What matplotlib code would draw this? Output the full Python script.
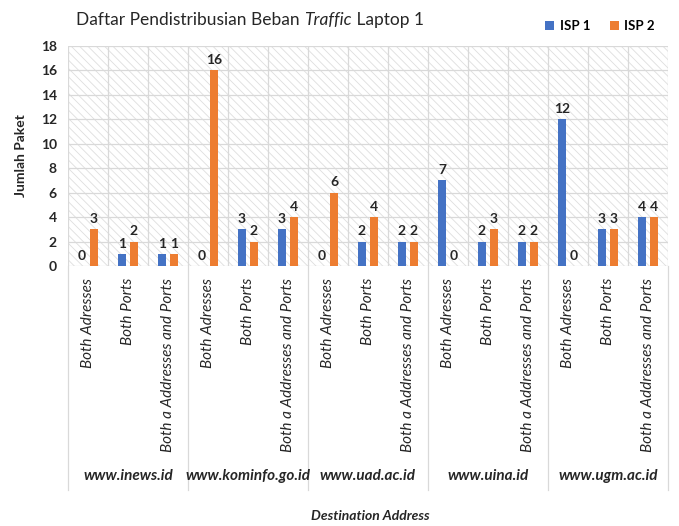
import matplotlib
matplotlib.use("Agg")
import matplotlib.pyplot as plt
from matplotlib.patches import Rectangle
import matplotlib.transforms as mtransforms
import numpy as np

plt.rcParams['font.family'] = ['Lato', 'DejaVu Sans']
plt.rcParams['hatch.linewidth'] = 0.6

groups = ["www.inews.id", "www.kominfo.go.id", "www.uad.ac.id", "www.uina.id", "www.ugm.ac.id"]
subcats = ["Both Adresses", "Both Ports", "Both a Addresses and Ports"]
isp1 = [0, 1, 1, 0, 3, 3, 0, 2, 2, 7, 2, 2, 12, 3, 4]
isp2 = [3, 2, 1, 16, 2, 4, 6, 4, 2, 0, 3, 2, 0, 3, 4]
yticks = [0, 2, 4, 6, 8, 10, 12, 14, 16, 18]

blue = "#4472C4"
orange = "#ED7D31"
gridc = "#D9D9D9"

W, H = 679, 526
fig = plt.figure(figsize=(W / 100, H / 100), dpi=100)
ax = fig.add_axes([68 / W, 1 - 266 / H, 600 / W, 220 / H])

n = len(isp1)
x = np.arange(n)
bw = 0.19
off = 0.15

# hatched background
ax.set_facecolor("white")
bg = Rectangle((0, 0), 1, 1, transform=ax.transAxes, facecolor="white",
               edgecolor="#DEDEDE", hatch="\\\\\\\\", linewidth=0, zorder=0)
ax.add_patch(bg)

b1 = ax.bar(x - off, isp1, width=bw, color=blue, label="ISP 1", zorder=3)
b2 = ax.bar(x + off, isp2, width=bw, color=orange, label="ISP 2", zorder=3)

for bars, vals in ((b1, isp1), (b2, isp2)):
    for r, v in zip(bars, vals):
        ax.annotate(str(v), (r.get_x() + r.get_width() / 2, v), xytext=(0, 3),
                    textcoords="offset points", ha="center", va="bottom",
                    fontsize=10, fontweight="bold", color="#262626", zorder=4)

ax.set_xlim(-0.5, n - 0.5)
ax.set_ylim(0, 18)
ax.set_yticks(yticks)
ax.set_yticklabels([str(t) for t in yticks], fontsize=10, fontweight="bold", color="#262626")
ax.tick_params(axis="y", length=0, pad=8)
ax.set_xticks([])
for yv in yticks:
    ax.axhline(yv, color=gridc, lw=0.9, zorder=1)
for xv in np.arange(-0.5, n, 1.0):
    ax.axvline(xv, color=gridc, lw=0.9, zorder=1)
for s in ax.spines.values():
    s.set_visible(False)

ax.set_ylabel("Jumlah Paket", fontsize=10, fontweight="bold", color="#262626", labelpad=10)

trans = mtransforms.blended_transform_factory(ax.transData, fig.transFigure)
for i in range(n):
    ax.text(i, 1 - 278 / H, subcats[i % 3], transform=trans, rotation=90,
            ha="center", va="top", fontsize=11, style="italic", color="#262626")

for g in range(len(groups) + 1):
    xv = g * 3 - 0.5
    ax.plot([xv, xv], [1 - 266 / H, 1 - 490 / H], transform=trans, color=gridc,
            lw=0.9, clip_on=False)
for g, name in enumerate(groups):
    ax.text(g * 3 + 1, 1 - 476 / H, name, transform=trans, ha="center", va="center",
            fontsize=11, style="italic", fontweight="bold", color="#262626")

fig.text(370 / W, 1 - 516 / H, "Destination Address", ha="center", va="center",
         fontsize=10, style="italic", fontweight="bold", color="#262626")

# Title with italic word
fig.canvas.draw()
r = fig.canvas.get_renderer()
tx, ty = 76 / W, 1 - 20 / H
parts = [("Daftar Pendistribusian Beban ", "normal"), ("Traffic", "italic"), (" Laptop 1", "normal")]
for txt, st in parts:
    t = fig.text(tx, ty, txt, fontsize=12.5, style=st, ha="left", va="center", color="#262626")
    bb = t.get_window_extent(renderer=r)
    tx += bb.width / fig.bbox.width

leg = fig.legend(handles=[b1, b2], labels=["ISP 1", "ISP 2"], loc="center",
                 bbox_to_anchor=(600 / W, 1 - 26 / H), ncol=2, frameon=False,
                 prop={"size": 9.5, "weight": "bold"}, handlelength=0.7, handleheight=0.7,
                 columnspacing=1.5, handletextpad=0.4)

fig.savefig("out.png", dpi=100, facecolor="white")
